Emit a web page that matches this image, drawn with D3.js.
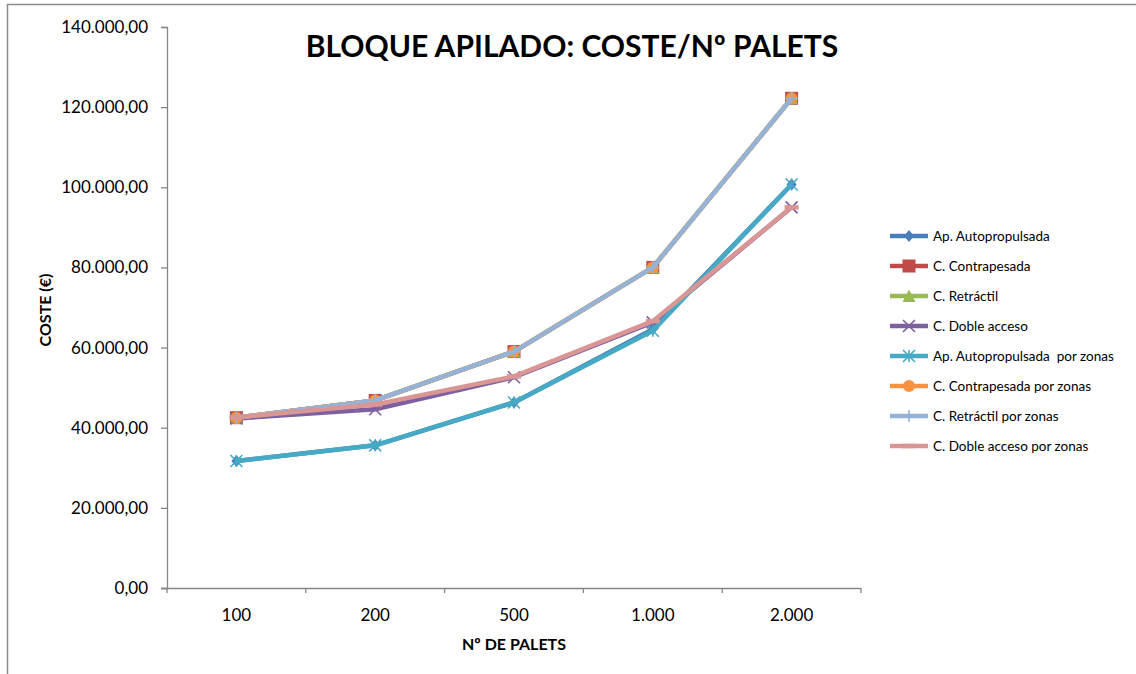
<!DOCTYPE html>
<html>
<head>
<meta charset="utf-8">
<script src="https://cdn.jsdelivr.net/npm/d3@7"></script>
<style>
  html, body { margin: 0; padding: 0; background: #fff; }
  svg { display: block; }
  text { font-family: Lato, "Open Sans", sans-serif; fill: #000; white-space: pre; }
</style>
</head>
<body>
<svg id="chart" width="1136" height="674"></svg>
<script>
// ---- data ----
const categories = ["100", "200", "500", "1.000", "2.000"];
const yTicks = [0, 20000, 40000, 60000, 80000, 100000, 120000, 140000];
const seriesNames = [
  "Ap. Autopropulsada",
  "C. Contrapesada",
  "C. Retráctil",
  "C. Doble acceso",
  "Ap. Autopropulsada  por zonas",
  "C. Contrapesada por zonas",
  "C. Retráctil por zonas",
  "C. Doble acceso por zonas"
];
const apAutopropulsada      = [31700, 35600, 46300, 64600, 100700];
const cContrapesada         = [42500, 46800, 59000, 80000, 122200];
const cRetractil            = [42500, 46800, 59000, 80000, 122200];
const cDobleAcceso          = [42300, 44600, 52600, 66300, 95000];
const apAutopropulsadaZonas = [31700, 35600, 46300, 64200, 100700];
const cContrapesadaZonas    = [42500, 46800, 59000, 80000, 122200];
const cRetractilZonas       = [42500, 46800, 59000, 80000, 122200];
const cDobleAccesoZonas     = [42600, 45800, 52800, 66600, 95000];

const seriesValues = [apAutopropulsada, cContrapesada, cRetractil, cDobleAcceso,
  apAutopropulsadaZonas, cContrapesadaZonas, cRetractilZonas, cDobleAccesoZonas];
const colors = ["#4A7EBB", "#BE4B48", "#98B954", "#7D60A0", "#46AAC5", "#F69240", "#95B3D7", "#D99694"];
const markers = ["diamond", "square", "triangle", "x", "star", "circle", "plus", "dash"];

// ---- layout ----
const svg = d3.select("#chart");
const pLeft = 167, pRight = 861, pTop = 27, pBottom = 588;

// chart border
svg.append("path")
  .attr("d", `M7.5,680 V4.5 H1140`)
  .attr("fill", "none").attr("stroke", "#8c8c8c").attr("stroke-width", 1.5);

const x = d3.scaleBand().domain(categories).range([pLeft, pRight]);
const y = d3.scaleLinear().domain([0, 140000]).range([pBottom, pTop]);

const fmt = v => {
  const s = d3.format(",.2f")(v);
  return s.replace(/,/g, "#").replace(/\./g, ",").replace(/#/g, ".");
};

const axisColor = "#868686";
// y axis
const yAxis = svg.append("g").attr("transform", `translate(${pLeft},0)`)
  .call(d3.axisLeft(y).tickValues(yTicks).tickFormat(fmt).tickSize(6).tickPadding(13));
// x axis
const xAxis = svg.append("g").attr("transform", `translate(0,${pBottom})`)
  .call(d3.axisBottom(x).tickSize(0).tickPadding(21));
[yAxis, xAxis].forEach(g => {
  g.select(".domain").attr("stroke", axisColor).attr("stroke-width", 1.3);
  g.selectAll(".tick line").attr("stroke", axisColor).attr("stroke-width", 1.3);
  g.selectAll("text").style("font-family", "Lato, sans-serif").style("font-size", "17px").attr("fill", "#000");
});
xAxis.select(".domain").attr("d", `M${pLeft - 6},0.5H${pRight}`);
// x-axis boundary ticks
const bounds = categories.map(c => x(c)).concat([x.range()[1]]);
xAxis.selectAll(".btick").data(bounds).enter().append("line")
  .attr("x1", d => d).attr("x2", d => d).attr("y1", 0).attr("y2", 5)
  .attr("stroke", axisColor).attr("stroke-width", 1.3);

// titles
svg.append("text").attr("x", 572).attr("y", 57).attr("text-anchor", "middle")
  .style("font-weight", "bold").style("font-size", "30px").text("BLOQUE APILADO: COSTE/Nº PALETS");
svg.append("text").attr("x", 514).attr("y", 650).attr("text-anchor", "middle")
  .style("font-weight", "bold").style("font-size", "16px").text("Nº DE PALETS");
svg.append("text").attr("transform", "translate(51,310) rotate(-90)").attr("text-anchor", "middle")
  .style("font-weight", "bold").style("font-size", "16px").text("COSTE (€)");

// markers
function drawMarker(g, type, color, cx, cy) {
  const s = g.append("g").attr("transform", `translate(${cx},${cy})`);
  if (type === "diamond") {
    s.append("path").attr("d", "M0,-6L5,0L0,6L-5,0Z").attr("fill", color);
  } else if (type === "square") {
    s.append("rect").attr("x", -6.5).attr("y", -6.5).attr("width", 13).attr("height", 13).attr("fill", color);
  } else if (type === "triangle") {
    s.append("path").attr("d", "M0,-6.5L6.5,6L-6.5,6Z").attr("fill", color);
  } else if (type === "x") {
    s.append("path").attr("d", "M-6,-6L6,6M6,-6L-6,6").attr("stroke", color).attr("stroke-width", 1.6);
  } else if (type === "star") {
    s.append("path").attr("d", "M-6,-6L6,6M6,-6L-6,6M0,-6V6").attr("stroke", color).attr("stroke-width", 1.6);
  } else if (type === "circle") {
    s.append("circle").attr("r", 6).attr("fill", color);
  } else if (type === "plus") {
    s.append("path").attr("d", "M0,-6V6M-6,0H6").attr("stroke", color).attr("stroke-width", 1.6);
  } else if (type === "dash") {
    s.append("path").attr("d", "M-7,0H7").attr("stroke", color).attr("stroke-width", 4.5);
  }
}

const line = d3.line().x((d, i) => x(categories[i]) + x.bandwidth() / 2).y(d => y(d));
const plot = svg.append("g");
seriesValues.forEach((vals, si) => {
  const g = plot.append("g");
  g.append("path").attr("d", line(vals)).attr("fill", "none")
    .attr("stroke", colors[si]).attr("stroke-width", 4.5).attr("stroke-linejoin", "round");
  vals.forEach((v, i) => drawMarker(g, markers[si], colors[si], x(categories[i]) + x.bandwidth() / 2, y(v)));
});

// legend
const legend = svg.append("g");
seriesNames.forEach((name, i) => {
  const ly = 236 + i * 30;
  const g = legend.append("g");
  g.append("line").attr("x1", 890).attr("x2", 928).attr("y1", ly).attr("y2", ly)
    .attr("stroke", colors[i]).attr("stroke-width", 4.5);
  drawMarker(g, markers[i], colors[i], 909, ly);
  g.append("text").attr("x", 933).attr("y", ly + 4.5).style("font-size", "13.5px").text(name);
});
</script>
</body>
</html>
